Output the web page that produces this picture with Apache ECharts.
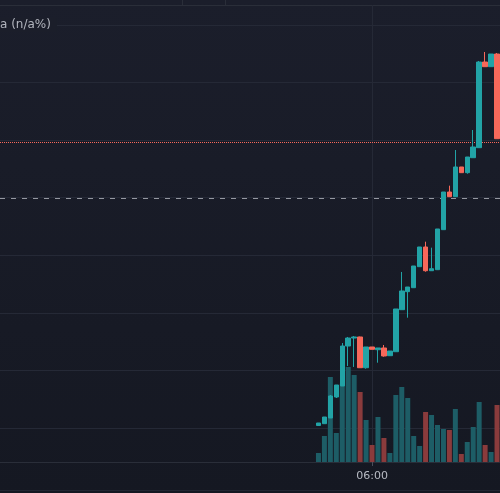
<!DOCTYPE html>
<html>
<head>
<meta charset="utf-8">
<script src="https://cdn.jsdelivr.net/npm/echarts@6/dist/echarts.min.js"></script>
<style>
html, body { margin: 0; padding: 0; background: #181b26; }
#chart { width: 500px; height: 493px; background: linear-gradient(#1b1e2b, #151822); }
</style>
</head>
<body>
<div id="chart"></div>
<script>
// empty slots on the left before the first candle
const padCount = 53;
// slot index of the 06:00 candle, 5 minute bars
const labelSlot = 62;

// [open, close, low, high]
const candles = [
  [100.43, 100.87, 100.43, 100.87],
  [100.75, 101.91, 100.75, 101.91],
  [101.74, 105.56, 101.74, 105.73],
  [105.38, 107.47, 105.21, 107.47],
  [107.30, 114.24, 107.30, 114.76],
  [114.24, 115.63, 110.77, 115.81],
  [115.63, 115.81, 110.60, 115.98],
  [115.81, 110.47, 110.47, 115.87],
  [110.47, 114.07, 110.30, 114.07],
  [114.07, 113.67, 113.67, 114.07],
  [113.60, 113.90, 111.34, 113.90],
  [113.90, 112.51, 112.38, 114.42],
  [112.56, 113.37, 112.56, 113.37],
  [113.25, 120.67, 113.25, 120.67],
  [120.55, 123.80, 120.55, 127.10],
  [123.68, 124.49, 119.16, 124.49],
  [124.37, 128.14, 124.37, 128.14],
  [128.02, 131.44, 128.02, 131.44],
  [131.44, 127.32, 127.15, 132.36],
  [127.32, 127.67, 127.32, 131.32],
  [127.50, 134.57, 127.50, 134.57],
  [134.45, 140.99, 134.45, 140.99],
  [140.99, 140.18, 140.18, 142.09],
  [140.18, 145.34, 140.18, 148.29],
  [145.34, 144.35, 144.35, 145.34],
  [144.35, 147.07, 144.17, 147.07],
  [146.95, 148.81, 146.95, 151.76],
  [148.69, 163.57, 148.69, 163.75],
  [163.57, 162.76, 162.76, 165.31],
  [162.76, 164.96, 162.76, 164.96],
  [164.96, 150.25, 150.25, 165.14]
];

const volumes = [90, 260, 850, 290, 780, 950, 870, 700, 420, 170, 450, 240, 90, 670, 750,
  640, 260, 160, 500, 470, 370, 330, 320, 530, 80, 200, 350, 600, 170, 100, 570];

const lastPrice = 149.63;
const refPrice = 139.90;
const headerText = 'a (n/a%)';
const markTime = '06:00';

const upColor = '#22a3a6';
const downColor = '#f7685a';
const upVol = '#1d5d66';
const downVol = '#8a3b3c';
const gridColor = '#252936';

// time labels for every slot
const times = [];
const total = padCount + candles.length;
for (let k = 0; k < total; k++) {
  let m = 6 * 60 + (k - labelSlot) * 5;
  m = (m + 1440) % 1440;
  times.push(('0' + Math.floor(m / 60)).slice(-2) + ':' + ('0' + (m % 60)).slice(-2));
}

const pad = new Array(padCount).fill('-');
const candleData = pad.concat(candles);
const volumeData = pad.concat(volumes.map((v, i) => ({
  value: v,
  itemStyle: { color: candles[i][1] >= candles[i][0] ? upVol : downVol }
})));

const onlyMark = (idx) => times[idx] === markTime;

const chart = echarts.init(document.getElementById('chart'));

const option = {
  backgroundColor: 'transparent',
  animation: false,
  grid: [
    { left: -3.5, right: -0.5, top: 25, bottom: 65 },
    { left: -3.5, right: -0.5, top: 5, bottom: 31 }
  ],
  xAxis: [
    {
      type: 'category', gridIndex: 0, data: times,
      axisLine: { show: false }, axisTick: { show: false }, axisLabel: { show: false },
      splitLine: { show: false }
    },
    {
      type: 'category', gridIndex: 1, data: times,
      axisLine: { show: true, lineStyle: { color: '#2a2e39', width: 1 } },
      axisTick: { show: true, alignWithLabel: true, interval: onlyMark, length: 4, lineStyle: { color: '#4a4e5a' } },
      axisLabel: {
        interval: onlyMark, color: '#b8bbc4', fontSize: 11, margin: 9,
        fontFamily: 'DejaVu Sans'
      },
      splitLine: { show: false }
    }
  ],
  yAxis: [
    {
      type: 'value', gridIndex: 0, min: 100, max: 170, interval: 10,
      axisLine: { show: false }, axisTick: { show: false }, axisLabel: { show: false },
      splitLine: { show: true, lineStyle: { color: gridColor, width: 1 } }
    },
    {
      type: 'value', gridIndex: 1, min: 0, max: 4570,
      axisLine: { show: false }, axisTick: { show: false }, axisLabel: { show: false },
      splitLine: { show: false }
    }
  ],
  series: [
    {
      name: 'Volume', type: 'bar', xAxisIndex: 1, yAxisIndex: 1,
      barWidth: 5, data: volumeData, z: 1,
      markLine: {
        silent: true, symbol: 'none', label: { show: false }, z: 0,
        lineStyle: { color: gridColor, type: 'solid', width: 1 },
        data: [{ xAxis: markTime }]
      }
    },
    {
      name: 'Price', type: 'candlestick', xAxisIndex: 0, yAxisIndex: 0,
      barWidth: 5, data: candleData, z: 5,
      itemStyle: {
        color: upColor, color0: downColor,
        borderColor: upColor, borderColor0: downColor, borderWidth: 1
      },
      markLine: {
        silent: true, symbol: 'none', label: { show: false },
        data: [
          { yAxis: lastPrice, lineStyle: { color: downColor, type: [1, 1], width: 1 } },
          { yAxis: refPrice, lineStyle: { color: '#9598a1', type: [5, 6], width: 1 } }
        ]
      }
    }
  ],
  graphic: [
    { type: 'line', shape: { x1: 0, y1: 5.5, x2: 500, y2: 5.5 }, style: { stroke: '#2a2e39', lineWidth: 1 } },
    { type: 'line', shape: { x1: 182.5, y1: 0, x2: 182.5, y2: 5 }, style: { stroke: '#2a2e39', lineWidth: 1 } },
    { type: 'line', shape: { x1: 225.5, y1: 0, x2: 225.5, y2: 5 }, style: { stroke: '#2a2e39', lineWidth: 1 } },
    { type: 'line', shape: { x1: 0, y1: 490.5, x2: 500, y2: 490.5 }, style: { stroke: '#232733', lineWidth: 1 } },
    {
      type: 'text', x: 0, y: 25, z: 10,
      style: {
        text: headerText, fill: '#b2b5be', font: '12px "DejaVu Sans"',
        verticalAlign: 'middle',
        backgroundColor: '#1b1e2a', padding: [1, 6, 1, 0]
      }
    }
  ]
};

chart.setOption(option);
</script>
</body>
</html>
